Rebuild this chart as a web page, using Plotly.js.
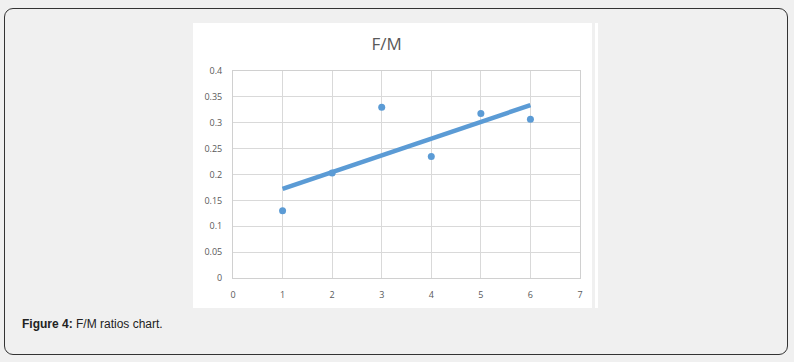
<!DOCTYPE html>
<html><head><meta charset="utf-8">
<script src="https://cdn.plot.ly/plotly-3.0.1.min.js"></script>
<style>
html,body{margin:0;padding:0;background:#f0f0f0;}
#wrap{position:relative;width:794px;height:362px;background:#f0f0f0;overflow:hidden;}
#box{position:absolute;left:4px;top:8px;width:782px;height:345px;border:1px solid #333;border-radius:9px;background:#f0f0f0;}
#white{position:absolute;left:193px;top:23px;width:399px;height:285px;background:#fff;}
#strip{position:absolute;left:595px;top:23px;width:3px;height:285px;background:#fff;}
#plot{position:absolute;left:0;top:0;width:794px;height:362px;}
#cap{position:absolute;left:22px;top:317px;font-family:"Liberation Sans",Arial,sans-serif;font-size:12px;color:#222;}
</style></head>
<body><div id="wrap">
<div id="box"></div><div id="white"></div><div id="strip"></div>
<div id="plot"></div>
<div id="cap"><b>Figure 4:</b> F/M ratios chart.</div>
</div>
<script>
const xVals = [1, 2, 3, 4, 5, 6];
const fmRatio = [0.13, 0.203, 0.33, 0.235, 0.318, 0.307];
const trendX = [1, 6];
const trendY = [0.172, 0.334];
const xTicks = [0, 1, 2, 3, 4, 5, 6, 7];
const yTicks = [0, 0.05, 0.1, 0.15, 0.2, 0.25, 0.3, 0.35, 0.4];
const yTickText = ['0', '0.05', '0.1', '0.15', '0.2', '0.25', '0.3', '0.35', '0.4'];
const blue = '#5b9bd5';
const traces = [
  {x: trendX, y: trendY, mode: 'lines', line: {color: blue, width: 4.5}, hoverinfo: 'skip'},
  {x: xVals, y: fmRatio, mode: 'markers', marker: {color: blue, size: 7}}
];
const tickFont = {family: '"Open Sans", sans-serif', size: 9, color: '#595959'};
const layout = {
  width: 794, height: 362,
  paper_bgcolor: 'rgba(0,0,0,0)', plot_bgcolor: 'rgba(0,0,0,0)',
  showlegend: false,
  margin: {l: 233, r: 214, t: 71, b: 84, pad: 0},
  title: {text: 'F/M', x: 0.487, xanchor: 'center', y: 0.878, yanchor: 'middle',
          font: {family: '"Open Sans", sans-serif', size: 17, color: '#595959'}},
  xaxis: {range: [0, 7], tickvals: xTicks, ticktext: xTicks.map(String),
          showgrid: true, gridcolor: '#d9d9d9', gridwidth: 1, zeroline: false,
          showline: true, linecolor: '#d0d0d0', linewidth: 1, ticks: '', mirror: 'all',
          ticklabelstandoff: 8, tickfont: tickFont},
  yaxis: {range: [0, 0.4], tickvals: yTicks, ticktext: yTickText,
          showgrid: true, gridcolor: '#d9d9d9', gridwidth: 1, zeroline: false,
          showline: true, linecolor: '#d0d0d0', linewidth: 1, ticks: '', mirror: 'all',
          ticklabelstandoff: 8, tickfont: tickFont}
};
Plotly.newPlot('plot', traces, layout, {staticPlot: true, displayModeBar: false});
</script>
</body></html>
